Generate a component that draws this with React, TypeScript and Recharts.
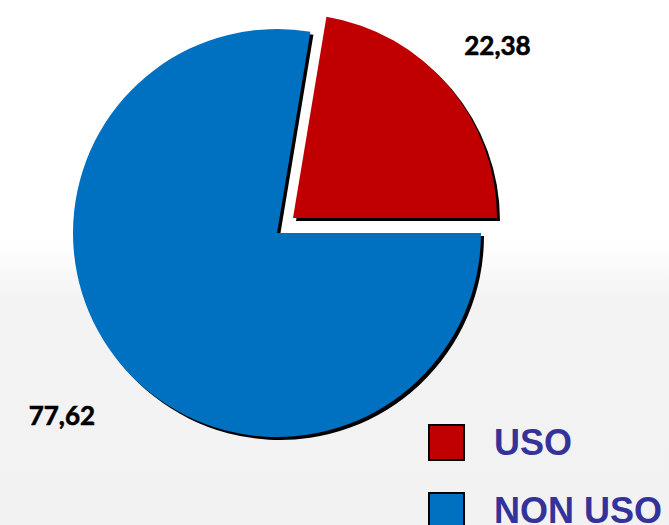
import React from 'react';
import { PieChart, Pie, Cell } from 'recharts';

const categories = ['USO', 'NON USO'];
const values = [22.38, 77.62];
const labels = ['22,38', '77,62'];
const colors = ['#C00000', '#0070C0'];

const chartData = categories.map((name, i) => ({ name, value: values[i], label: labels[i] }));

const RADIUS = 204;

// label placed along the slice's mid angle, further out for the big slice
const makeLabel = (showIndex: number, extra: number) => (props: any) => {
  const { cx, cy, midAngle, outerRadius, index, payload } = props;
  if (index !== showIndex) return null;
  const rad = (Math.PI / 180) * midAngle;
  const x = cx + (outerRadius + extra) * Math.cos(rad);
  const y = cy - (outerRadius + extra) * Math.sin(rad);
  return (
    <text
      x={x}
      y={y}
      textAnchor="middle"
      dominantBaseline="central"
      fill="#000"
      stroke="#000"
      strokeWidth={0.6}
      style={{ fontFamily: 'Lato, "Open Sans", sans-serif', fontWeight: 700, fontSize: 26 }}
    >
      {payload.label}
    </text>
  );
};

function ChartLegend() {
  return (
    <div
      style={{
        position: 'absolute',
        left: 428,
        top: 424,
        fontFamily: '"Liberation Sans", Arial, sans-serif',
        fontWeight: 700,
      }}
    >
      {chartData.map((d, i) => (
        <div key={d.name} style={{ display: 'flex', alignItems: 'center', height: 37, marginBottom: 31 }}>
          <div
            style={{
              width: 33,
              height: 33,
              background: colors[i],
              border: '2px solid #000',
              marginRight: 29,
            }}
          />
          <span style={{ color: '#333399', fontSize: 36, lineHeight: '37px', whiteSpace: 'nowrap' }}>
            {d.name}
          </span>
        </div>
      ))}
    </div>
  );
}

export default function App() {
  return (
    <div
      style={{
        position: 'fixed',
        left: 0,
        top: 0,
        width: 669,
        height: 525,
        overflow: 'hidden',
        background:
          'linear-gradient(to bottom, #ffffff 0px, #ffffff 240px, #f3f3f3 300px, #f2f2f2 525px)',
      }}
    >
      <PieChart width={669} height={525} margin={{ top: 0, right: 0, bottom: 0, left: 0 }}>
        {/* shadows */}
        <Pie
          data={chartData}
          dataKey="value"
          cx={280}
          cy={236}
          outerRadius={RADIUS}
          startAngle={0}
          endAngle={360}
          stroke="none"
          isAnimationActive={false}
        >
          {chartData.map((d, i) => (
            <Cell key={d.name} fill={i === 1 ? '#000' : 'transparent'} />
          ))}
        </Pie>
        <Pie
          data={chartData}
          dataKey="value"
          cx={296}
          cy={221}
          outerRadius={RADIUS}
          startAngle={0}
          endAngle={360}
          stroke="none"
          isAnimationActive={false}
        >
          {chartData.map((d, i) => (
            <Cell key={d.name} fill={i === 0 ? '#000' : 'transparent'} />
          ))}
        </Pie>
        {/* NON USO */}
        <Pie
          data={chartData}
          dataKey="value"
          cx={277}
          cy={233}
          outerRadius={RADIUS}
          startAngle={0}
          endAngle={360}
          stroke="none"
          labelLine={false}
          label={makeLabel(1, 78)}
          isAnimationActive={false}
        >
          {chartData.map((d, i) => (
            <Cell key={d.name} fill={i === 1 ? colors[1] : 'transparent'} />
          ))}
        </Pie>
        {/* USO, exploded */}
        <Pie
          data={chartData}
          dataKey="value"
          cx={293}
          cy={218}
          outerRadius={RADIUS}
          startAngle={0}
          endAngle={360}
          stroke="none"
          labelLine={false}
          label={makeLabel(0, 64)}
          isAnimationActive={false}
        >
          {chartData.map((d, i) => (
            <Cell key={d.name} fill={i === 0 ? colors[0] : 'transparent'} />
          ))}
        </Pie>
      </PieChart>
      <ChartLegend />
    </div>
  );
}
